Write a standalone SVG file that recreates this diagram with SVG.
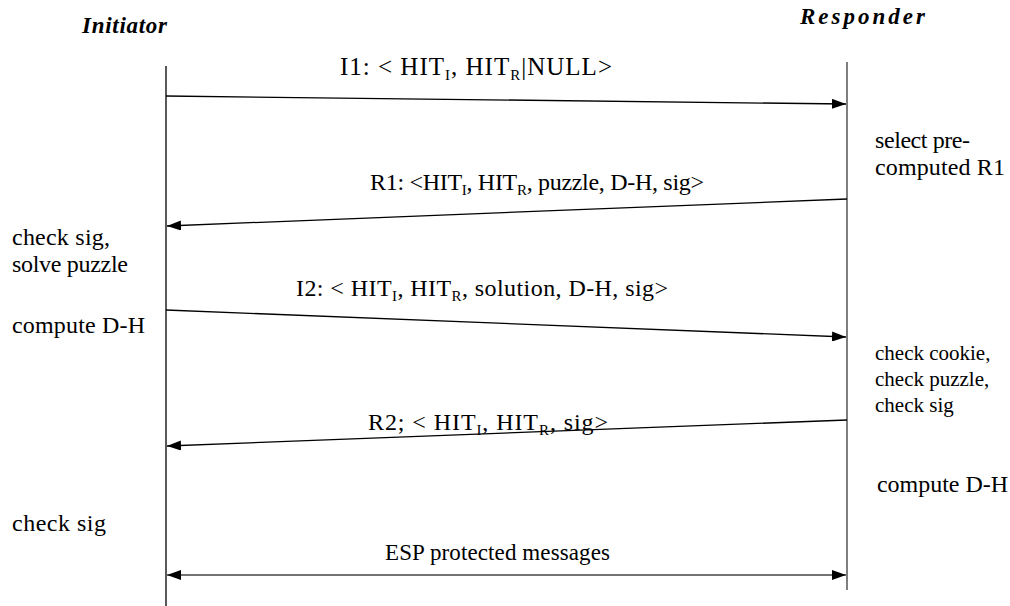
<svg xmlns="http://www.w3.org/2000/svg" width="1010" height="606" viewBox="0 0 1010 606">
  <style>
    text { font-family: "Liberation Serif", "DejaVu Serif", serif; fill: #000; }
    .role { font-size: 23px; font-weight: bold; font-style: italic; }
    .note { font-size: 24px; }
    .note-s { font-size: 21px; }
    .sub { font-size: 15px; }
    .life { stroke: #000; stroke-width: 1.3; fill: none; }
    .life2 { stroke: #555; stroke-width: 1.5; fill: none; }
    .arr { stroke: #000; stroke-width: 1.3; fill: none; }
    .arr2 { stroke: #444; stroke-width: 1.3; fill: none; }
  </style>
  <defs>
    <marker id="head" viewBox="0 0 14 10" refX="14" refY="5" markerWidth="14" markerHeight="10" markerUnits="userSpaceOnUse" orient="auto-start-reverse">
      <path d="M0,0 L14,5 L0,10 Z" fill="#000"/>
    </marker>
  </defs>
  <rect width="1010" height="606" fill="#fff"/>

  <!-- lifelines -->
  <g id="initiator">
    <text class="role" x="82" y="33" textLength="85" lengthAdjust="spacing">Initiator</text>
    <line class="life" x1="166" y1="66" x2="166" y2="606"/>
  </g>
  <g id="responder">
    <text class="role" x="800" y="24" textLength="125" lengthAdjust="spacing">Responder</text>
    <line class="life2" x1="847" y1="62" x2="847" y2="590"/>
  </g>

  <!-- messages -->
  <g id="connectors">
    <line class="arr" x1="166" y1="96" x2="846" y2="104" marker-end="url(#head)"/>
    <line class="arr" x1="847" y1="199" x2="167" y2="226" marker-end="url(#head)"/>
    <line class="arr" x1="166" y1="310" x2="846" y2="337" marker-end="url(#head)"/>
    <line class="arr" x1="847" y1="420" x2="167" y2="446" marker-end="url(#head)"/>
    <line class="arr2" x1="167" y1="575" x2="846" y2="575" marker-start="url(#head)" marker-end="url(#head)"/>
  </g>

  <g id="label-i1">
    <text x="340" y="75" font-size="25" textLength="272" lengthAdjust="spacing">I1: &lt; HIT<tspan class="sub" dy="5">I</tspan><tspan dy="-5">, HIT</tspan><tspan class="sub" dy="5">R</tspan><tspan dy="-5">|NULL&gt;</tspan></text>
  </g>
  <g id="label-r1">
    <text x="370" y="190" font-size="24" textLength="334" lengthAdjust="spacing">R1: &lt;HIT<tspan class="sub" dy="5">I</tspan><tspan dy="-5">, HIT</tspan><tspan class="sub" dy="5">R</tspan><tspan dy="-5">, puzzle, D-H, sig&gt;</tspan></text>
  </g>
  <g id="label-i2">
    <text x="296" y="296" font-size="24" textLength="372" lengthAdjust="spacing">I2: &lt; HIT<tspan class="sub" dy="5">I</tspan><tspan dy="-5">, HIT</tspan><tspan class="sub" dy="5">R</tspan><tspan dy="-5">, solution, D-H, sig&gt;</tspan></text>
  </g>
  <g id="label-r2">
    <text x="368" y="430" font-size="24" textLength="240" lengthAdjust="spacing">R2; &lt; HIT<tspan class="sub" dy="5">I</tspan><tspan dy="-5">, HIT</tspan><tspan class="sub" dy="5">R</tspan><tspan dy="-5">, sig&gt;</tspan></text>
  </g>
  <g id="label-esp">
    <text x="385" y="560" font-size="23" textLength="225" lengthAdjust="spacing">ESP protected messages</text>
  </g>

  <!-- initiator side notes -->
  <g id="note-i-solve">
    <text class="note" x="12" y="245" textLength="98" lengthAdjust="spacing">check sig,</text>
    <text class="note" x="12" y="272" textLength="116" lengthAdjust="spacing">solve puzzle</text>
  </g>
  <g id="note-i-dh">
    <text class="note" x="12" y="333" textLength="133" lengthAdjust="spacing">compute D-H</text>
  </g>
  <g id="note-i-sig">
    <text class="note" x="12" y="531" textLength="94" lengthAdjust="spacing">check sig</text>
  </g>

  <!-- responder side notes -->
  <g id="note-r-select">
    <text class="note" x="875" y="148" textLength="95" lengthAdjust="spacing">select pre-</text>
    <text class="note" x="875" y="175" textLength="130" lengthAdjust="spacing">computed R1</text>
  </g>
  <g id="note-r-check">
    <text class="note-s" x="875" y="360">check cookie,</text>
    <text class="note-s" x="875" y="386">check puzzle,</text>
    <text class="note-s" x="875" y="412">check sig</text>
  </g>
  <g id="note-r-dh">
    <text class="note" x="877" y="492" textLength="131" lengthAdjust="spacing">compute D-H</text>
  </g>
</svg>
